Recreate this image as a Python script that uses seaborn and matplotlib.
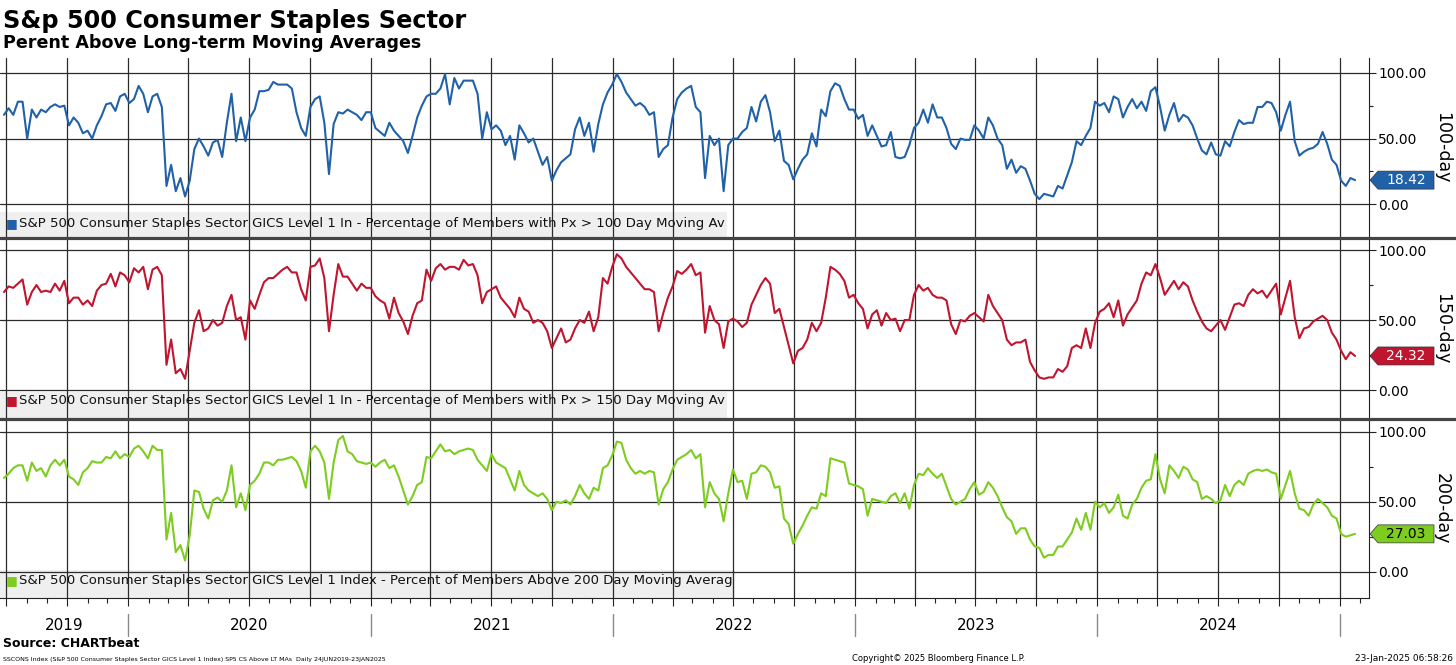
import pandas as pd
import seaborn as sns
import matplotlib.pyplot as plt
import matplotlib.dates as mdates
from matplotlib.patches import Rectangle, Polygon
from matplotlib.lines import Line2D
from matplotlib.transforms import IdentityTransform, blended_transform_factory

# weekly readings (Fridays) starting 2019-06-28, ending 2025-01-24
start_date = "2019-06-28"

pct_100 = [
    68, 73, 68, 78, 78, 50, 72, 66, 72, 70, 74, 76, 74, 75, 60, 66, 62, 54, 56, 50,
    60, 67, 76, 77, 71, 82, 84, 77, 80, 90, 84, 70, 82, 84, 74, 14, 30, 10, 20, 6,
    18, 42, 50, 44, 37, 47, 49, 36, 62, 84, 48, 66, 48, 66, 72, 86, 86, 87,
    93, 91, 91, 91, 88, 70, 58, 52, 74, 80, 82, 62, 23, 61, 70, 69, 72, 70, 68, 64,
    70, 70, 58, 55, 52, 62, 56, 52, 48, 39, 52, 66, 75, 82, 84, 84, 88, 99, 76, 96,
    88, 94, 94, 94, 84, 50, 70, 57, 60, 56, 45, 52, 34, 60, 54, 47, 50, 40,
    30, 36, 18, 26, 32, 35, 38, 57, 66, 52, 62, 40, 61, 76, 85, 91, 99, 93, 85, 80,
    75, 77, 74, 68, 70, 36, 42, 45, 66, 80, 85, 88, 90, 74, 70, 20, 52, 45, 50, 10,
    45, 50, 50, 55, 58, 74, 63, 78, 83, 70, 48, 56, 33, 30, 19, 27, 34, 38,
    54, 44, 72, 67, 86, 92, 90, 80, 72, 72, 65, 68, 52, 60, 52, 44, 45, 55, 36, 35,
    36, 45, 58, 62, 72, 62, 76, 66, 66, 58, 46, 42, 50, 49, 49, 60, 56, 50, 66, 60,
    50, 45, 27, 34, 24, 29, 27, 18, 8, 4, 8, 7, 6, 14, 12, 22, 32, 48,
    45, 52, 58, 78, 75, 77, 70, 82, 80, 66, 74, 80, 73, 78, 71, 86, 89, 74, 56, 68,
    77, 63, 68, 66, 60, 50, 41, 38, 47, 38, 37, 48, 44, 55, 64, 61, 62, 62, 74, 74,
    78, 77, 70, 56, 68, 78, 48, 37, 40, 42, 43, 46, 55, 46, 34, 30, 18, 14, 20, 18.42,
]

pct_150 = [
    70, 74, 73, 76, 79, 61, 70, 75, 70, 71, 70, 76, 71, 78, 62, 66, 66, 61, 64, 60,
    71, 75, 76, 83, 74, 84, 82, 77, 87, 84, 88, 72, 86, 88, 82, 18, 36, 12, 15, 8,
    28, 48, 57, 42, 44, 50, 46, 48, 60, 68, 50, 52, 36, 64, 58, 68, 77, 80,
    80, 83, 86, 88, 84, 84, 72, 64, 88, 89, 94, 80, 42, 68, 90, 81, 81, 76, 71, 76,
    73, 73, 67, 64, 62, 51, 66, 55, 49, 40, 53, 62, 64, 86, 78, 87, 90, 86, 88, 88,
    86, 93, 89, 90, 82, 62, 70, 72, 74, 66, 62, 58, 52, 66, 58, 56, 48, 50,
    48, 42, 30, 37, 44, 34, 36, 44, 50, 48, 56, 42, 52, 80, 76, 88, 97, 94, 88, 84,
    80, 76, 72, 72, 70, 42, 55, 66, 74, 85, 83, 86, 90, 82, 84, 41, 60, 50, 47, 30,
    49, 51, 49, 45, 48, 61, 68, 75, 80, 76, 55, 58, 45, 32, 19, 28, 30, 36,
    48, 42, 48, 66, 88, 86, 83, 78, 66, 68, 62, 58, 44, 54, 57, 46, 55, 50, 51, 42,
    50, 50, 68, 75, 71, 73, 68, 66, 66, 64, 47, 40, 50, 49, 53, 55, 52, 49, 68, 60,
    55, 50, 36, 32, 34, 34, 36, 20, 14, 9, 8, 9, 9, 15, 13, 17, 30, 32,
    30, 44, 30, 48, 56, 58, 62, 52, 64, 46, 54, 59, 64, 76, 84, 82, 90, 80, 68, 73,
    78, 72, 77, 74, 64, 56, 49, 44, 42, 46, 50, 43, 52, 61, 62, 60, 68, 72, 69, 71,
    66, 71, 76, 54, 66, 78, 52, 37, 44, 45, 49, 51, 53, 50, 41, 36, 28, 22, 27, 24.32,
]

pct_200 = [
    67, 70, 74, 76, 76, 65, 78, 72, 74, 68, 76, 80, 76, 80, 68, 66, 62, 71, 74, 79,
    78, 78, 82, 81, 86, 81, 84, 82, 88, 90, 86, 81, 90, 87, 87, 23, 42, 14, 19, 8,
    26, 58, 57, 45, 38, 51, 53, 50, 58, 76, 46, 56, 44, 62, 65, 70, 78, 78,
    76, 80, 80, 81, 82, 79, 72, 60, 86, 90, 86, 78, 52, 78, 94, 97, 86, 84, 79, 78,
    77, 78, 75, 78, 80, 74, 76, 68, 58, 48, 54, 62, 64, 82, 81, 86, 91, 86, 87, 84,
    86, 87, 88, 87, 80, 76, 72, 84, 78, 76, 74, 66, 58, 72, 62, 58, 56, 54,
    56, 52, 44, 50, 49, 51, 48, 54, 62, 56, 52, 60, 58, 74, 76, 83, 93, 92, 80, 74,
    70, 72, 70, 72, 71, 48, 59, 64, 73, 80, 82, 84, 87, 81, 84, 46, 64, 56, 52, 36,
    56, 73, 64, 65, 52, 70, 71, 76, 75, 71, 60, 61, 38, 34, 20, 27, 33, 40,
    46, 45, 56, 54, 81, 80, 79, 78, 63, 62, 61, 59, 40, 52, 51, 50, 49, 54, 56, 49,
    56, 45, 62, 70, 69, 74, 70, 67, 70, 61, 52, 48, 50, 52, 59, 64, 55, 57, 64, 60,
    54, 46, 39, 36, 27, 31, 31, 23, 18, 17, 10, 12, 12, 18, 18, 23, 28, 38,
    30, 42, 30, 50, 46, 49, 42, 46, 55, 40, 38, 48, 52, 60, 65, 66, 84, 66, 56, 76,
    72, 67, 75, 73, 66, 64, 52, 54, 52, 49, 51, 62, 54, 62, 65, 62, 70, 72, 73, 72,
    73, 71, 70, 52, 62, 72, 56, 45, 44, 40, 48, 52, 49, 46, 40, 38, 27, 25, 26, 27.03,
]

series_labels = [
    "S&P 500 Consumer Staples Sector GICS Level 1 In - Percentage of Members with Px > 100 Day Moving Av",
    "S&P 500 Consumer Staples Sector GICS Level 1 In - Percentage of Members with Px > 150 Day Moving Av",
    "S&P 500 Consumer Staples Sector GICS Level 1 Index - Percent of Members Above 200 Day Moving Averag",
]
side_labels = ["100-day", "150-day", "200-day"]
years = [2019, 2020, 2021, 2022, 2023, 2024]

colors = ["#2161a8", "#c0152f", "#7dcc1f"]
tag_text = ["white", "white", "black"]

sns.set_style("white")
plt.rcParams['font.family'] = ['DejaVu Sans']
plt.rcParams['text.color'] = 'black'
plt.rcParams['xtick.color'] = 'black'
plt.rcParams['ytick.color'] = 'black'

W, H = 1456, 665
fig = plt.figure(figsize=(W / 100, H / 100), dpi=100)

x_left = pd.Timestamp("2019-06-22")
x_right = pd.Timestamp("2025-02-14")
grid_c = "#2b2b2b"

panels = [(58, 237), (239, 418), (420, 598)]
ylims = [(-24.8, 111.2), (-20, 107.9), (-18.8, 108.4)]
box_h = [0.14, 0.145, 0.16]
text_y = [0.073, 0.095, 0.096]

axes = []
for i, values in enumerate([pct_100, pct_150, pct_200]):
    top, bot = panels[i]
    ax = fig.add_axes([0, 1 - bot / H, 1369 / W, (bot - top) / H])
    df = pd.DataFrame({
        "date": pd.date_range(start_date, periods=len(values), freq="W-FRI"),
        "value": values,
    })
    sns.lineplot(data=df, x="date", y="value", ax=ax, color=colors[i], lw=1.5, zorder=3)

    ax.set_xlim(x_left, x_right)
    ax.set_ylim(*ylims[i])
    ax.set_axisbelow(True)
    ax.xaxis.set_major_locator(mdates.MonthLocator(bymonth=[1, 4, 7, 10]))
    ax.xaxis.set_minor_locator(mdates.MonthLocator())
    ax.grid(True, axis="x", which="major", color=grid_c, lw=0.9)
    ax.set_yticks([0, 50, 100])
    ax.set_yticks([25, 75], minor=True)
    ax.set_yticklabels(["0.00", "50.00", "100.00"])
    ax.grid(True, axis="y", which="major", color=grid_c, lw=0.9)
    ax.yaxis.tick_right()
    ax.tick_params(axis="y", which="major", length=5, width=0.8, pad=1.5,
                   labelsize=10, direction="out", right=True, left=False, color="#222")
    ax.tick_params(axis="y", which="minor", length=3, width=0.8,
                   direction="out", right=True, left=False, color="#222")
    ax.set_xlabel("")
    ax.set_ylabel("")
    for s in ["top", "left", "bottom"]:
        ax.spines[s].set_visible(False)
    ax.spines["right"].set_color("#222")
    ax.tick_params(axis="x", which="both", bottom=False, labelbottom=False)

    # legend strip
    ax.add_patch(Rectangle((0, 0), (735 if i == 2 else 727) / 1369, box_h[i],
                           transform=ax.transAxes, facecolor="#efefef",
                           edgecolor="none", zorder=0.4))
    ax.text(0.0084, text_y[i], "\u25a0", transform=ax.transAxes, color=colors[i],
            fontsize=9, ha="center", va="center", zorder=5)
    ax.text(0.0139, text_y[i], series_labels[i], transform=ax.transAxes,
            fontsize=9.5, color="#111", ha="left", va="center", zorder=5)

    ax.text(1442 / 1369, 0.5, side_labels[i], transform=ax.transAxes,
            rotation=270, fontsize=12.5, ha="center", va="center")
    axes.append(ax)

# bottom date axis
ax3 = axes[2]
ax3.spines["bottom"].set_visible(True)
ax3.spines["bottom"].set_color("#222")
ax3.tick_params(axis="x", which="major", bottom=True, length=6, width=0.8,
                direction="out", color="#222")
ax3.tick_params(axis="x", which="minor", bottom=True, length=3.5, width=0.8,
                direction="out", color="#222")

btrans = blended_transform_factory(ax3.transData, ax3.transAxes)
for y in years:
    y0 = max(pd.Timestamp(f"{y}-01-01"), x_left)
    y1 = pd.Timestamp(f"{y + 1}-01-01")
    mid = y0 + (y1 - y0) / 2
    ax3.text(mdates.date2num(mid), -0.157, str(y), transform=btrans,
             fontsize=11, ha="center", va="center")
for y in years[1:] + [2025]:
    xd = mdates.date2num(pd.Timestamp(f"{y}-01-01"))
    ax3.add_line(Line2D([xd, xd], [-0.09, -0.213], transform=btrans,
                        color="#8a8a8a", lw=1, clip_on=False))

# thick separators between panels
for yy in [238, 419]:
    fig.add_artist(Line2D([0, 1], [1 - yy / H, 1 - yy / H], transform=fig.transFigure,
                          color="#444444", lw=2.3))

# last value tags
last_vals = [pct_100[-1], pct_150[-1], pct_200[-1]]
for i, ax in enumerate(axes):
    tr = blended_transform_factory(ax.transAxes, ax.transData)
    x0, y0 = tr.transform((1.0, last_vals[i]))
    verts = [(x0 + 1, y0), (x0 + 9, y0 + 9), (x0 + 65, y0 + 9),
             (x0 + 65, y0 - 9), (x0 + 9, y0 - 9)]
    fig.add_artist(Polygon(verts, closed=True, transform=IdentityTransform(),
                           facecolor=colors[i], edgecolor="#333", lw=0.5))
    fig.text(x0 + 37, y0, f"{last_vals[i]:.2f}", transform=IdentityTransform(),
             fontsize=10, color=tag_text[i], ha="center", va="center")

# titles
fig.text(3 / W, 1 - 28 / H, "S&p 500 Consumer Staples Sector", fontsize=17.3,
         fontweight="bold", va="baseline", ha="left")
fig.text(3 / W, 1 - 48 / H, "Perent Above Long-term Moving Averages", fontsize=12.6,
         fontweight="bold", va="baseline", ha="left")

# footer
fig.text(3 / W, 1 - 647 / H, "Source: CHARTbeat", fontsize=9, fontweight="bold",
         va="baseline", ha="left")
fig.text(3 / W, 1 - 661 / H,
         "SSCONS Index (S&P 500 Consumer Staples Sector GICS Level 1 Index) SP5 CS Above LT MAs  Daily 24JUN2019-23JAN2025",
         fontsize=4.5, va="baseline", ha="left")
fig.text(939 / W, 1 - 661 / H, "Copyright\u00a9 2025 Bloomberg Finance L.P.",
         fontsize=6, va="baseline", ha="center")
fig.text(1453 / W, 1 - 661 / H, "23-Jan-2025 06:58:26", fontsize=6.5,
         va="baseline", ha="right")

fig.savefig("out.png", dpi=100)
